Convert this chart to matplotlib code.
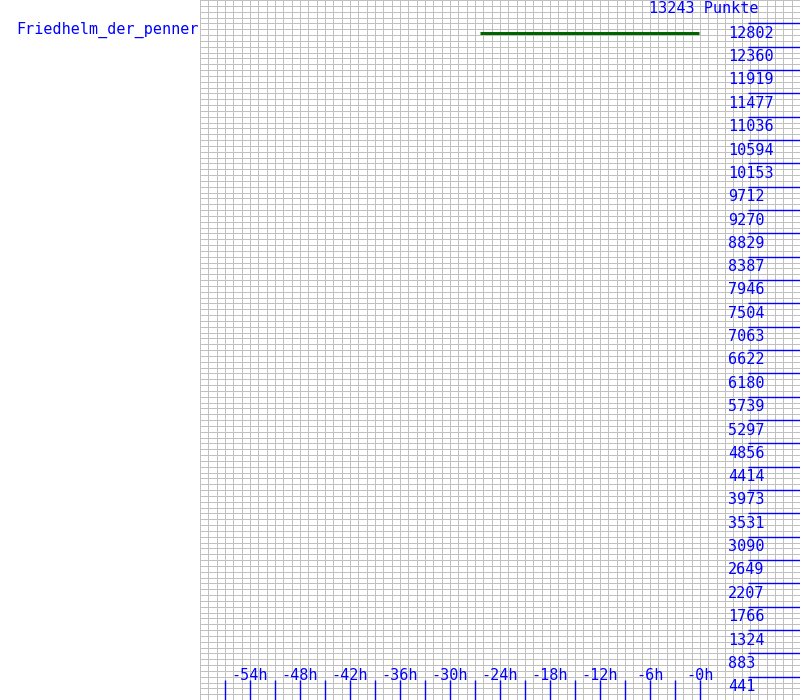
import matplotlib
matplotlib.use("Agg")

import matplotlib.pyplot as plt
import numpy as np

PLAYER = "Friedhelm_der_penner"
POINTS_LABEL = "13243 Punkte"
Y_MAX = 13243

# points history (hours relative to now)
HOURS = [-26.4, -0.1]
POINTS = [12625, 12625]

X_TICKS = [-54, -48, -42, -36, -30, -24, -18, -12, -6, 0]
X_LABELS = ["-54h", "-48h", "-42h", "-36h", "-30h", "-24h", "-18h", "-12h", "-6h", "-0h"]
X_MARKS = [-57, -54, -51, -48, -45, -42, -39, -36, -33, -30, -27, -24,
           -21, -18, -15, -12, -9, -6, -3, 0]

Y_TICKS = [441, 883, 1324, 1766, 2207, 2649, 3090, 3531, 3973, 4414,
           4856, 5297, 5739, 6180, 6622, 7063, 7504, 7946, 8387, 8829,
           9270, 9712, 10153, 10594, 11036, 11477, 11919, 12360, 12802]

BLUE = "#0000ff"
GREEN = "#006400"
GRID = "#c0c0c0"
FONT = "DejaVu Sans Mono"
FS = 10.9

fig = plt.figure(figsize=(8, 7), dpi=100)
ax = fig.add_axes([0.25, 0, 0.75, 1])
ax.set_xlim(-60, 12)
ax.set_ylim(0, Y_MAX)
for s in ax.spines.values():
    s.set_visible(False)
ax.set_xticks([])
ax.set_yticks([])

# grid: one column per hour, four rows per tick step
for h in np.arange(-60, 13, 1):
    ax.axvline(h, color=GRID, lw=0.72, zorder=1, antialiased=False)
for v in np.linspace(0, Y_MAX, 121):
    ax.axhline(v, color=GRID, lw=0.72, zorder=1, antialiased=False)

# right-side value ticks
px_y = Y_MAX / 700.0
for v in Y_TICKS:
    ax.plot([5.76, 12], [v, v], color=BLUE, lw=1, zorder=3, solid_capstyle="butt")
    ax.text(3.36, v - 2.5 * px_y, str(v), color=BLUE, family=FONT, fontsize=FS,
            ha="left", va="top", zorder=4)

# bottom hour marks
for h in X_MARKS:
    ax.plot([h, h], [0, 20 * px_y], color=BLUE, lw=1, zorder=3, solid_capstyle="butt")
for h, lab in zip(X_TICKS, X_LABELS):
    ax.text(h, 24 * px_y, lab, color=BLUE, family=FONT, fontsize=FS,
            ha="center", va="center", zorder=4)

ax.plot(HOURS, POINTS, color=GREEN, lw=2.2, zorder=5, solid_capstyle="butt")

fig.text(649 / 800, 0.9985, POINTS_LABEL, color=BLUE, family=FONT, fontsize=FS,
         ha="left", va="top")
fig.text(199 / 800, 1 - 22 / 700, PLAYER, color=BLUE, family=FONT, fontsize=FS,
         ha="right", va="top")

fig.savefig("out.png", dpi=100, facecolor="white")
